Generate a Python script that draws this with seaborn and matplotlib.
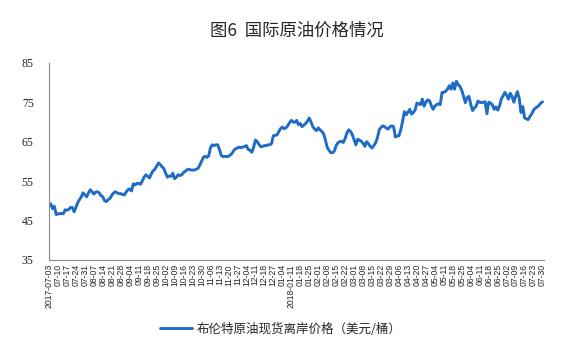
"""Brent crude spot price, daily, Jul 2017 - Jul 2018 (figure 6)."""

import matplotlib.pyplot as plt
import pandas as pd
import seaborn as sns

# daily closing values, grouped five trading days per row
PRICES = [
    49.2, 49.2, 48.0, 48.6, 46.5,
    46.7, 46.7, 46.8, 46.7, 47.7,
    47.6, 47.8, 48.3, 48.3, 47.2,
    48.3, 49.5, 50.3, 51.0, 52.0,
    51.5, 51.0, 52.0, 52.8, 52.3,
    51.7, 52.2, 52.3, 52.0, 51.3,
    51.0, 50.0, 49.8, 50.3, 50.6,
    51.4, 52.0, 52.3, 52.0, 51.8,
    51.8, 51.6, 51.5, 52.2, 52.8,
    53.0, 52.5, 54.3, 54.0, 54.4,
    54.4, 54.2, 55.0, 56.0, 56.6,
    56.2, 55.8, 56.8, 57.6, 58.0,
    58.8, 59.6, 59.2, 58.6, 58.2,
    57.0, 56.0, 56.3, 56.2, 57.0,
    55.6, 56.0, 56.6, 56.4, 56.6,
    57.2, 57.5, 57.9, 58.0, 57.8,
    57.8, 57.8, 58.0, 58.2, 59.0,
    60.0, 61.0, 61.3, 61.0, 61.4,
    63.5, 64.2, 64.0, 64.2, 64.2,
    63.0, 61.5, 61.2, 61.3, 61.2,
    61.3, 61.6, 62.0, 62.8, 63.2,
    63.4, 63.6, 63.5, 63.6, 63.8,
    64.0, 63.0, 62.8, 62.3, 63.5,
    65.4, 65.0, 64.3, 63.7, 63.8,
    64.0, 64.0, 64.2, 64.2, 64.5,
    66.5, 66.6, 66.7, 67.5, 68.3,
    68.7, 68.3, 68.5, 69.0, 69.8,
    70.4, 70.0, 69.9, 70.4, 69.3,
    69.6, 68.8, 69.2, 69.6, 70.2,
    71.0, 70.0, 68.8, 68.2, 67.8,
    68.5, 68.0, 67.6, 67.0, 65.5,
    63.6, 62.8, 62.2, 62.2, 62.6,
    64.0, 64.7, 65.0, 65.1, 64.8,
    65.8, 67.2, 68.0, 67.6, 66.8,
    65.5, 64.2, 65.6, 65.4, 65.1,
    64.6, 63.8, 65.0, 64.5, 63.8,
    63.4, 64.0, 64.7, 66.0, 68.0,
    68.6, 69.0, 68.8, 68.4, 68.2,
    68.8, 69.0, 68.8, 66.2, 66.4,
    66.5, 68.0, 70.1, 72.6, 71.8,
    72.5, 73.2, 72.0, 72.4, 73.0,
    74.8, 74.6, 74.4, 75.8, 74.0,
    75.0, 75.6, 75.4, 74.2, 73.2,
    74.0, 74.4, 74.6, 74.4, 77.5,
    77.5, 77.8, 78.3, 79.2, 78.3,
    79.9, 78.3, 80.3, 79.5, 79.0,
    78.0, 76.5, 74.9, 76.2, 76.5,
    74.5, 72.9, 73.5, 74.0, 75.3,
    75.0, 74.9, 75.0, 75.1, 72.1,
    75.0, 74.8, 74.4, 73.2, 73.8,
    73.0, 74.0, 75.8, 76.6, 77.5,
    76.8, 75.8, 77.3, 76.5, 75.0,
    76.5, 77.7, 76.0, 72.4, 73.9,
    71.0, 70.8, 70.6, 71.4, 72.1,
    73.0, 73.5, 73.8, 74.2, 74.8,
    75.1,
]

# one label every fifth trading day, as printed on the axis
TICK_LABELS = [
    "2017-07-03", "07-10", "07-17", "07-24", "07-31",
    "08-07", "08-14", "08-21", "08-28",
    "09-04", "09-11", "09-18", "09-25",
    "10-02", "10-09", "10-16", "10-23", "10-30",
    "11-06", "11-13", "11-20", "11-27",
    "12-04", "12-11", "12-18", "12-27", "01-04",
    "2018-01-11", "01-18", "01-25",
    "02-01", "02-08", "02-15", "02-22",
    "03-01", "03-08", "03-15", "03-22", "03-29",
    "04-06", "04-13", "04-20", "04-27",
    "05-04", "05-11", "05-18", "05-25",
    "06-04", "06-11", "06-18", "06-25",
    "07-02", "07-09", "07-16", "07-23", "07-30",
]
TICK_STEP = 5

Y_TICKS = [35, 45, 55, 65, 75, 85]

SERIES_NAME = "布伦特原油现货离岸价格（美元/桶）"
TITLE = "图6  国际原油价格情况"
LINE_COLOR = "#1f6cc4"
CJK = ["Noto Sans CJK SC", "DejaVu Sans"]

sns.set_style("white")
plt.rcParams["font.family"] = CJK

df = pd.DataFrame({"day": range(len(PRICES)), "price": PRICES})

fig = plt.figure(figsize=(5.61, 3.57), dpi=100)
ax = fig.add_axes([0.0873, 0.272, 0.883, 0.552])

sns.lineplot(data=df, x="day", y="price", ax=ax, color=LINE_COLOR,
             linewidth=2.1, label=SERIES_NAME, legend=False)

ax.set_xlim(0, len(PRICES))
ax.set_ylim(Y_TICKS[0], Y_TICKS[-1])
ax.set_yticks(Y_TICKS)
ax.set_yticklabels([str(v) for v in Y_TICKS], fontfamily="Liberation Serif",
                   fontsize=8.5)

ax.set_xticks(range(0, TICK_STEP * len(TICK_LABELS), TICK_STEP))
ax.set_xticklabels(TICK_LABELS, rotation=90, fontfamily="Liberation Sans",
                   fontsize=6.2)
ax.set_xlabel("")
ax.set_ylabel("")

for side in ("top", "right"):
    ax.spines[side].set_visible(False)
for side in ("left", "bottom"):
    ax.spines[side].set_color("#8c8c8c")
    ax.spines[side].set_linewidth(0.8)
ax.tick_params(axis="y", direction="out", length=3, width=0.8,
               color="#8c8c8c", pad=8)
ax.tick_params(axis="x", direction="in", length=3, width=0.6,
               color="#8c8c8c", pad=3)
ax.grid(False)

fig.text(0.53, 0.915, TITLE, ha="center", va="center", fontsize=12.5,
         fontweight="medium", family=CJK)

handles, labels = ax.get_legend_handles_labels()
fig.legend(handles, labels, loc="center", bbox_to_anchor=(0.5, 0.078),
           frameon=False, handlelength=2.6, handletextpad=0.3,
           prop={"family": CJK, "size": 9})

fig.savefig("out.png", dpi=100)
plt.close(fig)
